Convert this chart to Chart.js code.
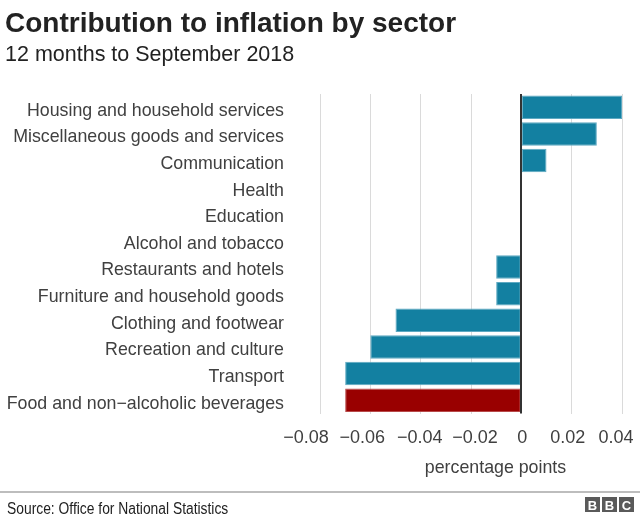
<!DOCTYPE html>
<html>
<head>
<meta charset="utf-8">
<script src="https://cdn.jsdelivr.net/npm/chart.js@4"></script>
<style>
  html, body { margin: 0; padding: 0; background: #fff; }
  #wrap { width: 640px; height: 520px; position: relative; }
</style>
</head>
<body>
<div id="wrap"><canvas id="c" width="640" height="520"></canvas></div>
<script>
const categories = [
  "Housing and household services",
  "Miscellaneous goods and services",
  "Communication",
  "Health",
  "Education",
  "Alcohol and tobacco",
  "Restaurants and hotels",
  "Furniture and household goods",
  "Clothing and footwear",
  "Recreation and culture",
  "Transport",
  "Food and non\u2212alcoholic beverages"
];
const contribution = [0.04, 0.03, 0.01, 0, 0, 0, -0.01, -0.01, -0.05, -0.06, -0.07, -0.07];
const highlighted = [false, false, false, false, false, false, false, false, false, false, false, true];
const xTickValues = [-0.08, -0.06, -0.04, -0.02, 0, 0.02, 0.04];

const titleText = "Contribution to inflation by sector";
const subtitleText = "12 months to September 2018";
const axisTitleText = "percentage points";
const sourceText = "Source: Office for National Statistics";
const logoLetters = ["B", "B", "C"];

// style: small horizontal nudges of x tick labels (the source spreads them to avoid crowding)
const xLabelNudge = [-14, -8, -1, 4, 1, -4, -6];

const FONT = "'Liberation Sans', Arial, Helvetica, sans-serif";
const TEAL = "#1380A1";
const RED = "#990000";

const isZero = v => Math.abs(v) < 1e-9;
const fmtTick = v => {
  const r = Math.round(v * 100) / 100;
  return r === 0 ? "0" : String(r).replace("-", "\u2212");
};

const decor = {
  id: "decor",
  afterDatasetsDraw(chart) {
    const ctx = chart.ctx;
    const area = chart.chartArea;
    const x0 = Math.round(chart.scales.x.getPixelForValue(0));
    ctx.save();
    ctx.fillStyle = "#333333";
    ctx.fillRect(x0 - 1, area.top, 2, area.bottom - area.top);
    ctx.restore();
  },
  afterDraw(chart) {
    const ctx = chart.ctx;
    const xs = chart.scales.x;
    ctx.save();
    // x tick labels
    ctx.fillStyle = "#404040";
    ctx.font = "18px " + FONT;
    ctx.textAlign = "center";
    ctx.textBaseline = "alphabetic";
    xs.ticks.forEach((t, i) => {
      ctx.fillText(fmtTick(t.value), xs.getPixelForValue(t.value) + (xLabelNudge[i] || 0), chart.chartArea.bottom + 29);
    });
    // Title
    ctx.fillStyle = "#222222";
    ctx.textAlign = "left";
    ctx.font = "bold 28px " + FONT;
    ctx.fillText(titleText, 5, 31.5);
    ctx.font = "21.5px " + FONT;
    ctx.fillText(subtitleText, 5, 61);
    // Axis title
    ctx.fillStyle = "#404040";
    ctx.font = "17.8px " + FONT;
    ctx.textAlign = "center";
    ctx.fillText(axisTitleText, 495.5, 472.5);
    // Footer line
    ctx.fillStyle = "#bdbdbd";
    ctx.fillRect(0, 491, 640, 2);
    // Source
    ctx.fillStyle = "#222222";
    ctx.textAlign = "left";
    ctx.font = "16px " + FONT;
    ctx.translate(7, 514);
    ctx.scale(0.865, 1);
    ctx.fillText(sourceText, 0, 0);
    ctx.setTransform(1, 0, 0, 1, 0, 0);
    // BBC logo
    const bw = 15, gap = 2, lx = 585, ly = 497;
    logoLetters.forEach((l, i) => {
      const x = lx + i * (bw + gap);
      ctx.fillStyle = "#5a5a5a";
      ctx.fillRect(x, ly, bw, 15);
      ctx.fillStyle = "#ffffff";
      ctx.font = "bold 13px " + FONT;
      ctx.textAlign = "center";
      ctx.fillText(l, x + bw / 2, ly + 12.5);
    });
    ctx.restore();
  }
};

new Chart(document.getElementById("c"), {
  type: "bar",
  data: {
    labels: categories,
    datasets: [{
      data: contribution,
      backgroundColor: highlighted.map(h => h ? RED : TEAL),
      borderColor: highlighted.map(h => h ? "#b84a4a" : "#5ea9c2"),
      borderWidth: 1,
      borderSkipped: false,
      barPercentage: 1,
      categoryPercentage: 0.885
    }]
  },
  options: {
    indexAxis: "y",
    responsive: false,
    animation: false,
    devicePixelRatio: 1,
    layout: { padding: { top: 94, right: 18, bottom: 0, left: 0 } },
    plugins: { legend: { display: false }, tooltip: { enabled: false }, title: { display: false } },
    scales: {
      x: {
        type: "linear",
        min: -0.08,
        max: 0.04,
        afterBuildTicks(scale) { scale.ticks = xTickValues.map(v => ({ value: v })); },
        afterFit(scale) { scale.height = 106.5; scale.paddingLeft = 0; scale.paddingRight = 0; },
        border: { display: false },
        grid: {
          drawTicks: false,
          color: c => (isZero(c.tick.value) ? "rgba(0,0,0,0)" : "#dadada"),
          lineWidth: 1
        },
        ticks: {
          padding: 13,
          color: "rgba(0,0,0,0)",
          font: { family: FONT, size: 18 },
          maxRotation: 0,
          autoSkip: false,
          callback: fmtTick
        }
      },
      y: {
        afterFit(scale) { scale.width = 320; scale.paddingTop = 0; scale.paddingBottom = 0; },
        border: { display: false },
        grid: { display: false, drawTicks: false },
        ticks: {
          padding: 36,
          labelOffset: 3.5,
          color: "#404040",
          font: { family: FONT, size: 17.8 },
          autoSkip: false
        }
      }
    }
  },
  plugins: [decor]
});
</script>
</body>
</html>
